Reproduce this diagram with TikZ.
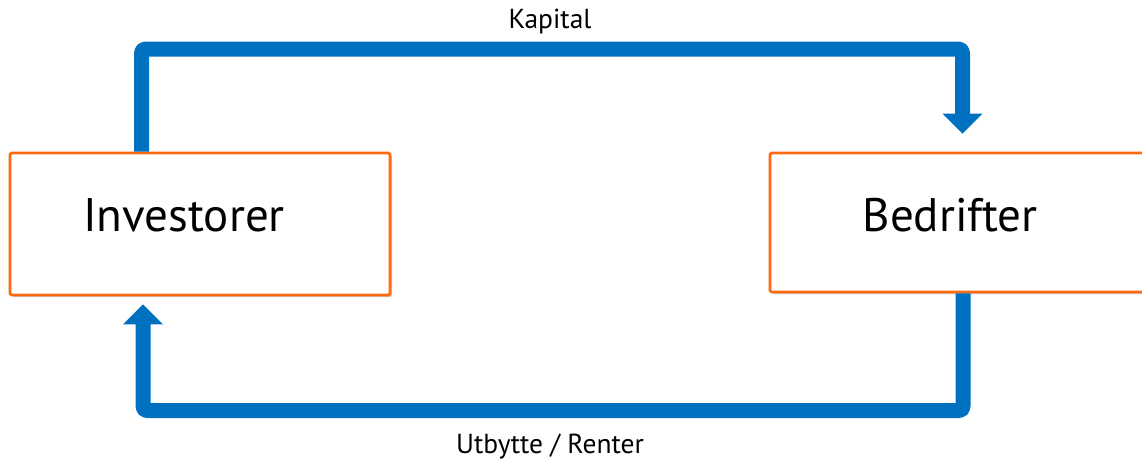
\documentclass[tikz,border=0pt]{standalone}
\usepackage{fontspec}
\setmainfont{PT Sans}
\usetikzlibrary{arrows.meta,shadows,calc}
\definecolor{flowblue}{RGB}{0,112,192}
\definecolor{boxorange}{RGB}{255,106,16}
\begin{document}
\begin{tikzpicture}[x=1pt,y=-1pt,
  partybox/.style={draw=boxorange,line width=2.8pt,fill=white,rounded corners=1.5pt,
    drop shadow={shadow xshift=2pt,shadow yshift=-2pt,opacity=0.35,fill=black!60},
    inner sep=0pt},
  flow/.style={draw=flowblue,line width=15pt,line join=round,rounded corners=4pt,
    -{Triangle[width=39pt,length=20pt]}},
  biglabel/.style={font=\fontsize{47}{52}\selectfont,inner sep=0pt},
  smalllabel/.style={font=\fontsize{27.5}{30}\selectfont,inner sep=0pt}]
\useasboundingbox (0,0) rectangle (1142,463);

% the two parties
\node[partybox,minimum width=380pt,minimum height=142pt] (inv) at (200,224) {};
\node[partybox,minimum width=390pt,minimum height=139pt] (bed) at (965,222.5) {};
\node[biglabel] (invtxt) at (184,215) {Investorer};
\node[biglabel] (bedtxt) at (950,215) {Bedrifter};

% corner points of the two loops
\coordinate (tl) at (141.5,49);
\coordinate (tr) at (962.5,49);
\coordinate (bl) at (143,410.5);
\coordinate (br) at (963,410.5);

% capital flows from investors to firms
\draw[flow] (tl |- inv.north) -- (tl) -- (tr) -- ($(bed.north -| tr)+(0,-18)$);
% dividends and interest flow back
\draw[flow] (br |- bed.south) -- (br) -- (bl) -- ($(inv.south -| bl)+(0,8)$);

\node[smalllabel] (kap) at (550,22) {Kapital};
\node[smalllabel] (utb) at (550,447) {Utbytte / Renter};
\end{tikzpicture}
\end{document}
